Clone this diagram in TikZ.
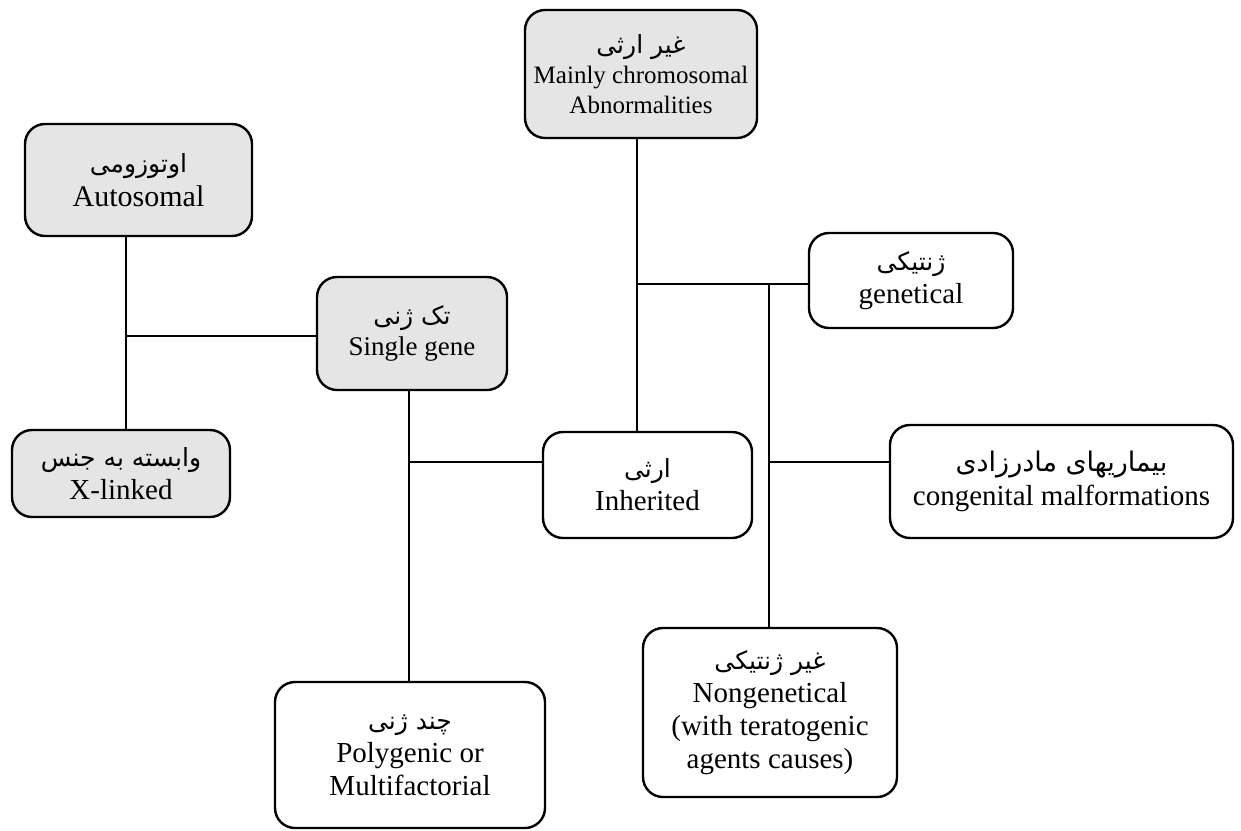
\documentclass[tikz,border=0pt]{standalone}
\usepackage{fontspec}
\setmainfont{Liberation Serif}
\newfontfamily\arabicfont[Script=Arabic]{DejaVu Sans}
\TeXXeTstate=1
\newcommand{\fatext}[1]{{\arabicfont\fontsize{12.5}{17}\selectfont\beginR #1\endR}}

\begin{document}
\begin{tikzpicture}[x=0.5pt,y=-0.5pt,
    caixa/.style={draw, line width=1.2pt, rounded corners=10pt, align=center, inner sep=0pt,
      font=\fontsize{14.5}{16.5}\selectfont},
    sombra/.style={caixa, fill=black!10},
    linha/.style={line width=1pt}]
  \useasboundingbox (0,0) rectangle (1241,830);

  % Caixas sombreadas
  \node[sombra, minimum width=116pt, minimum height=64pt, font=\fontsize{12.5}{15}\selectfont] (chrom) at (641,74)
    {\fatext{غیر ارثی}\\Mainly chromosomal\\Abnormalities};
  \node[sombra, minimum width=113.5pt, minimum height=56pt, font=\fontsize{15}{17}\selectfont] (auto) at (138.5,180)
    {\fatext{اوتوزومی}\\Autosomal};
  \node[sombra, minimum width=95pt, minimum height=56.5pt, font=\fontsize{13.5}{15.5}\selectfont] (single) at (412,333.5)
    {\fatext{تک ژنی}\\Single gene};
  \node[sombra, minimum width=109pt, minimum height=43.5pt] (xlink) at (121,473.5)
    {\fatext{وابسته به جنس}\\X-linked};

  % Caixas brancas
  \node[caixa, minimum width=102pt, minimum height=47.5pt] (genet) at (911,280.5)
    {\fatext{ژنتیکی}\\genetical};
  \node[caixa, minimum width=104.5pt, minimum height=53pt] (inher) at (647.5,485)
    {\fatext{ارثی}\\Inherited};
  \node[caixa, minimum width=171.5pt, minimum height=56.5pt, font=\fontsize{14.5}{17}\selectfont] (congen) at (1061.5,481.5)
    {{\arabicfont\fontsize{13.5}{18}\selectfont\beginR بیماریهای مادرزادی\endR}\\congenital malformations};
  \node[caixa, minimum width=127pt, minimum height=84.5pt] (nongen) at (770,712.5)
    {\fatext{غیر ژنتیکی}\\Nongenetical\\(with teratogenic\\agents causes)};
  \node[caixa, minimum width=135pt, minimum height=73pt] (poly) at (410,755)
    {\fatext{چند ژنی}\\Polygenic or\\Multifactorial};

  % Pontos de junção
  \coordinate (jauto) at (126,336);
  \coordinate (jgen) at (637,284);
  \coordinate (jnon) at (769,284);
  \coordinate (jcon) at (769,462);
  \coordinate (jpoly) at (409,462);

  % Linhas de ligação
  \draw[linha] (auto.south -| jauto) -- (xlink.north -| jauto);
  \draw[linha] (jauto) -- (single.west |- jauto);
  \draw[linha] (chrom.south -| jgen) -- (inher.north -| jgen);
  \draw[linha] (jgen) -- (genet.west |- jgen);
  \draw[linha] (jnon) -- (nongen.north -| jnon);
  \draw[linha] (jcon) -- (congen.west |- jcon);
  \draw[linha] (single.south -| jpoly) -- (poly.north -| jpoly);
  \draw[linha] (jpoly) -- (inher.west |- jpoly);
\end{tikzpicture}
\end{document}
